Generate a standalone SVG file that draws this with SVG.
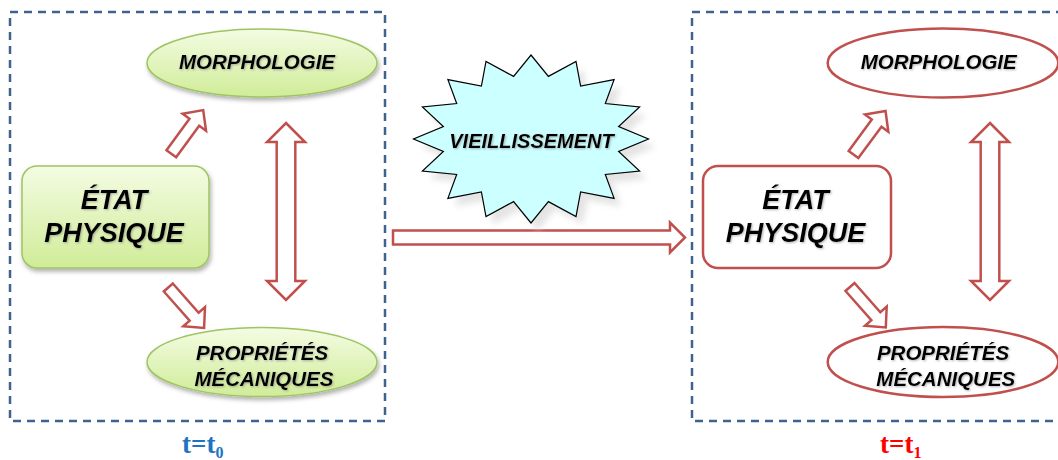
<svg xmlns="http://www.w3.org/2000/svg" width="1058" height="460" viewBox="0 0 1058 460">
<defs>
<linearGradient id="gGreen" x1="0" y1="0" x2="0" y2="1">
<stop offset="0" stop-color="#f4fce3"/>
<stop offset="1" stop-color="#d0ec98"/>
</linearGradient>
<filter id="shadow" x="-20%" y="-20%" width="140%" height="150%">
<feDropShadow dx="1.5" dy="3" stdDeviation="2" flood-color="#000" flood-opacity="0.3"/>
</filter>
<filter id="tshadow" x="-10%" y="-30%" width="120%" height="160%">
<feDropShadow dx="1" dy="1" stdDeviation="0.8" flood-color="#666" flood-opacity="0.5"/>
</filter>
<filter id="blur" x="-20%" y="-20%" width="140%" height="140%">
<feGaussianBlur stdDeviation="3"/>
</filter>
<path id="arrow1" d="M0,-6 L39,-6 L39,-14.5 L54,0 L39,14.5 L39,6 L0,6 Z"/>
</defs>
<style>
.frame{fill:none;stroke:#3f6391;stroke-width:2.5;stroke-dasharray:8 6}
.green{fill:url(#gGreen);stroke:#9fc463;stroke-width:1.5;filter:url(#shadow)}
.red{fill:#fff;stroke:#c0504d;stroke-width:2.5}
.arr{fill:#fff;stroke:#c0504d;stroke-width:2.5;stroke-linejoin:miter}
.t{font-family:"Liberation Sans",Arial,sans-serif;font-weight:bold;font-style:italic;fill:#000;text-anchor:middle;filter:url(#tshadow)}
.big{font-size:27px}
.small{font-size:20.5px}
.lbl{font-family:"Liberation Serif","Times New Roman",serif;font-weight:bold;font-size:27px}
</style>

<g id="frame-t0"><rect class="frame" x="10" y="12" width="375" height="409"/></g>
<g id="frame-t1"><rect class="frame" x="692" y="12" width="375" height="409"/></g>

<g id="connectors">
<use href="#arrow1" class="arr" transform="translate(171.3,153.7) rotate(-53.8)"/>
<use href="#arrow1" class="arr" transform="translate(168.3,287.5) rotate(48.5)"/>
<path class="arr" d="M286,123 L305,142 L295.3,142 L295.3,281 L305,281 L286,300 L267,281 L276.7,281 L276.7,142 L267,142 Z"/>
<use href="#arrow1" class="arr" transform="translate(853.5,154.5) rotate(-53.6)"/>
<use href="#arrow1" class="arr" transform="translate(850,287) rotate(48.5)"/>
<path class="arr" d="M990,123 L1009,142 L999.3,142 L999.3,281 L1009,281 L990,300 L971,281 L980.7,281 L980.7,142 L971,142 Z"/>
<path class="arr" d="M393,230.5 L670,230.5 L670,222.5 L685,237.5 L670,252.5 L670,244.5 L393,244.5 Z"/>
</g>

<g id="star">
<polygon fill="#d9d9d9" opacity="0.7" filter="url(#blur)" transform="translate(7,8)" points="531,55 548.4,76.4 576,61.4 580.6,86 614.1,79.6 605.3,103.6 639.6,106.9 618.6,126.6 648.5,139 618.6,151.4 639.6,171.1 605.3,174.4 614.1,198.4 580.6,192 576,216.6 548.4,201.6 531,223 513.6,201.6 486,216.6 481.4,192 447.9,198.4 456.7,174.4 422.4,171.1 443.4,151.4 413.5,139 443.4,126.6 422.4,106.9 456.7,103.6 447.9,79.6 481.4,86 486,61.4 513.6,76.4"/>
<polygon fill="#ccffff" stroke="#000" stroke-width="1.2" stroke-linejoin="miter" points="531,55 548.4,76.4 576,61.4 580.6,86 614.1,79.6 605.3,103.6 639.6,106.9 618.6,126.6 648.5,139 618.6,151.4 639.6,171.1 605.3,174.4 614.1,198.4 580.6,192 576,216.6 548.4,201.6 531,223 513.6,201.6 486,216.6 481.4,192 447.9,198.4 456.7,174.4 422.4,171.1 443.4,151.4 413.5,139 443.4,126.6 422.4,106.9 456.7,103.6 447.9,79.6 481.4,86 486,61.4 513.6,76.4"/>
<text class="t" style="font-size:20px" x="531.5" y="148">VIEILLISSEMENT</text>
</g>

<g id="etat-t0">
<rect class="green" x="22" y="166" width="187" height="102" rx="15"/>
<text class="t big" x="114" y="209">ÉTAT</text>
<text class="t big" x="114" y="242">PHYSIQUE</text>
</g>
<g id="morpho-t0">
<ellipse class="green" cx="262" cy="63" rx="115" ry="34"/>
<text class="t small" x="257" y="69.3">MORPHOLOGIE</text>
</g>
<g id="props-t0">
<ellipse class="green" cx="262" cy="362" rx="115" ry="34.5"/>
<text class="t small" x="262" y="360">PROPRIÉTÉS</text>
<text class="t small" x="264" y="386">MÉCANIQUES</text>
</g>

<g id="etat-t1">
<rect class="red" x="703" y="166" width="188" height="102" rx="15"/>
<text class="t big" x="795.5" y="209">ÉTAT</text>
<text class="t big" x="795.5" y="242">PHYSIQUE</text>
</g>
<g id="morpho-t1">
<ellipse class="red" cx="943" cy="63" rx="115.3" ry="34.5"/>
<text class="t small" x="938.7" y="69.3">MORPHOLOGIE</text>
</g>
<g id="props-t1">
<ellipse class="red" cx="943" cy="362" rx="115.3" ry="35"/>
<text class="t small" x="943" y="360">PROPRIÉTÉS</text>
<text class="t small" x="945.8" y="386">MÉCANIQUES</text>
</g>

<g id="label-t0">
<text class="lbl" x="182" y="453.3" fill="#1f73c2">t=t<tspan font-size="16px" dy="4.5">0</tspan></text>
</g>
<g id="label-t1">
<text class="lbl" x="880" y="453.3" fill="#ff0000">t=t<tspan font-size="16px" dy="4.5">1</tspan></text>
</g>
</svg>
